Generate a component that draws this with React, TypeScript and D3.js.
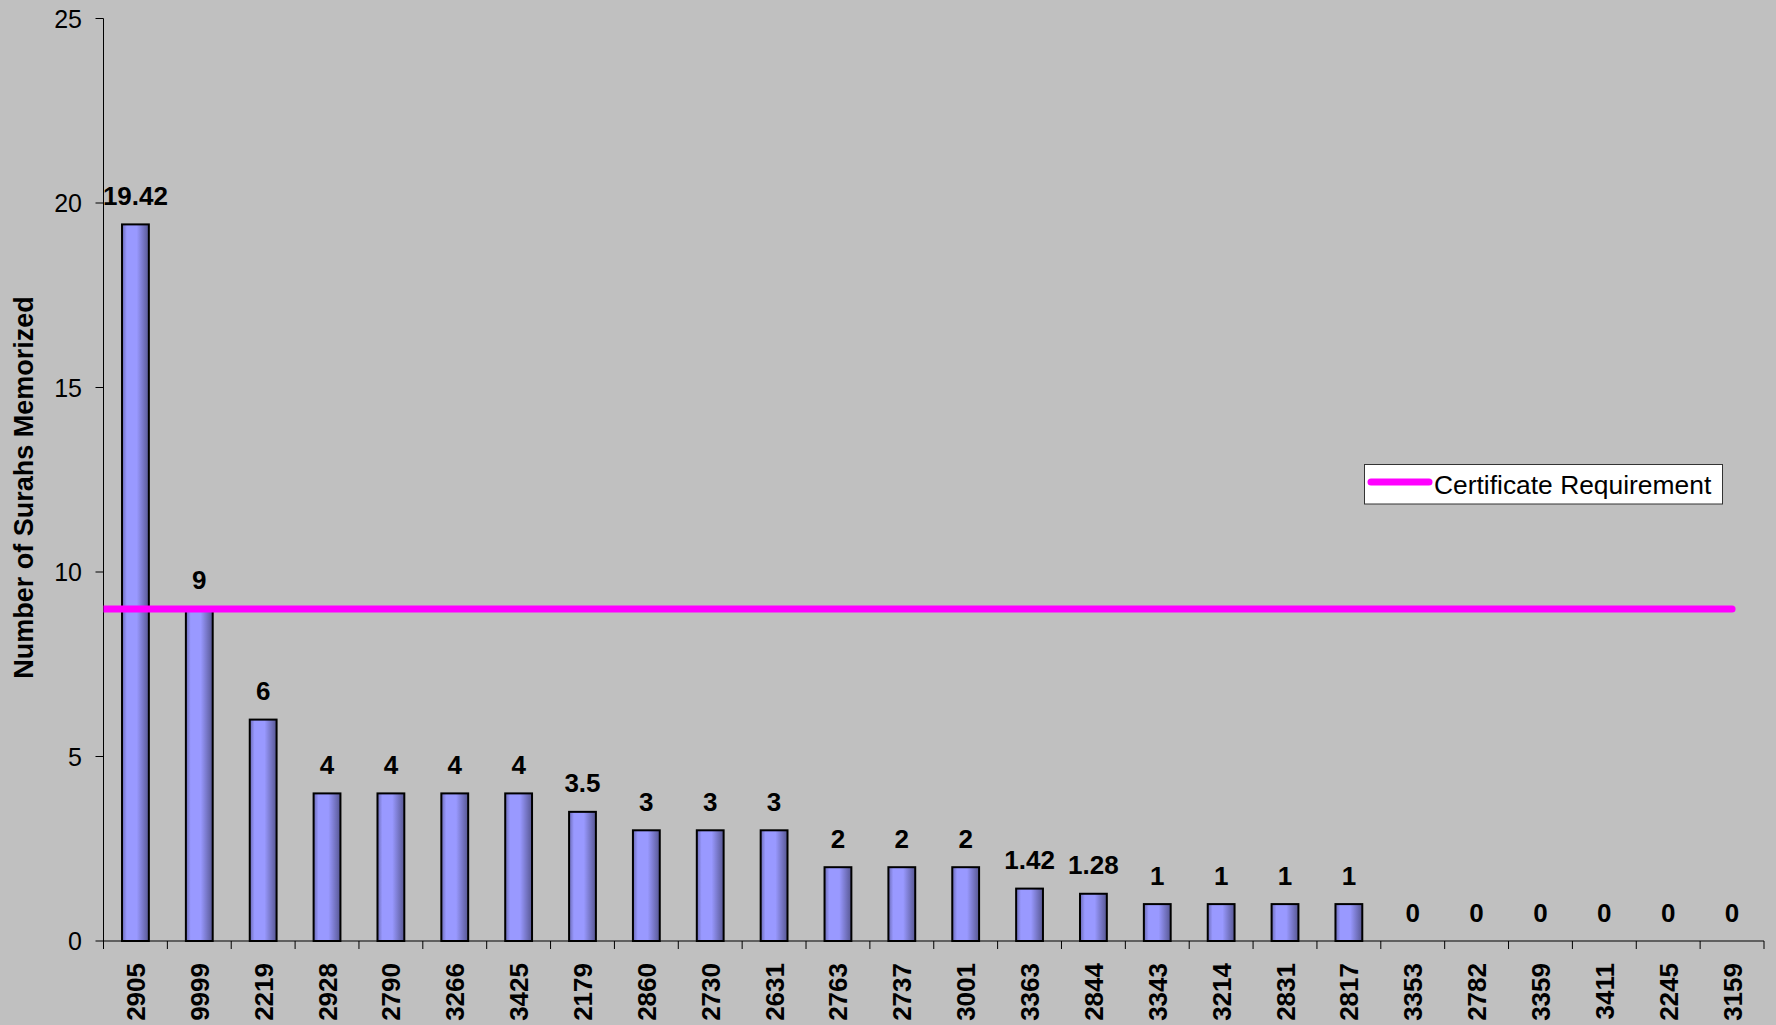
import React from "react";
import * as d3 from "d3";

const categories = ["2905","9999","2219","2928","2790","3266","3425","2179","2860","2730","2631","2763","2737","3001","3363","2844","3343","3214","2831","2817","3353","2782","3359","3411","2245","3159"];
const surahs = [19.42,9,6,4,4,4,4,3.5,3,3,3,2,2,2,1.42,1.28,1,1,1,1,0,0,0,0,0,0];
const requirement = 9;
const yTicks = [0,5,10,15,20,25];
const yTitle = "Number of Surahs Memorized";
const legendLabel = "Certificate Requirement";

const W = 1776, H = 1025;
const left = 103.5, right = 1764, top = 18.5, bottom = 941;
const FONT = "'Liberation Sans', Arial, sans-serif";

export default function App() {
  const x = d3.scaleBand<string>().domain(categories).range([left, right]).paddingInner(0).paddingOuter(0);
  const y = d3.scaleLinear().domain([0, 25]).range([bottom, top]);
  const bw = x.bandwidth() * 0.42;
  const lastCenter = (x(categories[categories.length - 1]) as number) + x.bandwidth() / 2;
  const boundaries = categories.map((c) => x(c) as number).concat([right]);

  return (
    <svg width={W} height={H} style={{ position: "absolute", left: 0, top: 0 }} fontFamily={FONT}>
      <defs>
        <linearGradient id="barGrad" x1="0" x2="1" y1="0" y2="0">
          <stop offset="0%" stopColor="#6a6ab4" />
          <stop offset="18%" stopColor="#9999ff" />
          <stop offset="55%" stopColor="#9999ff" />
          <stop offset="100%" stopColor="#575792" />
        </linearGradient>
        <clipPath id="plotClip">
          <rect x={left} y={0} width={W - left} height={H} />
        </clipPath>
      </defs>
      <rect x={0} y={0} width={W} height={H} fill="#c0c0c0" />

      {/* bars */}
      {surahs.map((v, i) => {
        const cx = (x(categories[i]) as number) + x.bandwidth() / 2;
        return v > 0 ? (
          <rect key={"b" + i} x={cx - bw / 2} y={y(v)} width={bw} height={bottom - y(v)}
            fill="url(#barGrad)" stroke="#000" strokeWidth={2} />
        ) : null;
      })}

      {/* axes */}
      <line x1={left} x2={left} y1={top} y2={bottom} stroke="#000" strokeWidth={1} />
      <line x1={left} x2={right} y1={bottom} y2={bottom} stroke="#000" strokeWidth={1} />
      {yTicks.map((t) => (
        <g key={"yt" + t}>
          <line x1={left - 8} x2={left} y1={y(t)} y2={y(t)} stroke="#000" strokeWidth={1} />
          <text x={82} y={y(t)} dy="0.36em" textAnchor="end" fontSize={25} fill="#000">{t}</text>
        </g>
      ))}
      {boundaries.map((b, i) => (
        <line key={"xt" + i} x1={b} x2={b} y1={bottom} y2={bottom + 8} stroke="#000" strokeWidth={1} />
      ))}
      {categories.map((c) => {
        const cx = (x(c) as number) + x.bandwidth() / 2;
        return (
          <text key={"xl" + c} transform={`translate(${cx + 9.5},963) rotate(-90)`} textAnchor="end"
            fontSize={26} fontWeight="bold" fill="#000">{c}</text>
        );
      })}

      {/* requirement line */}
      <g clipPath="url(#plotClip)">
        <line x1={left} x2={lastCenter} y1={y(requirement)} y2={y(requirement)} stroke="#ff00ff" strokeWidth={7} strokeLinecap="round" />
      </g>

      {/* data labels */}
      {surahs.map((v, i) => {
        const cx = (x(categories[i]) as number) + x.bandwidth() / 2;
        return (
          <text key={"dl" + i} x={cx} y={y(v) - 19.5} textAnchor="middle" fontSize={26} fontWeight="bold" fill="#000">{v}</text>
        );
      })}

      {/* y title */}
      <text transform={`translate(33,487.5) rotate(-90)`} textAnchor="middle" fontSize={27} fontWeight="bold" fill="#000">{yTitle}</text>

      {/* legend */}
      <rect x={1364.5} y={464.5} width={358} height={39.5} fill="#fff" stroke="#333" strokeWidth={1} />
      <line x1={1371} x2={1429} y1={482} y2={482} stroke="#ff00ff" strokeWidth={7} strokeLinecap="round" />
      <text x={1434} y={494} fontSize={26.4} fill="#000">{legendLabel}</text>
    </svg>
  );
}
